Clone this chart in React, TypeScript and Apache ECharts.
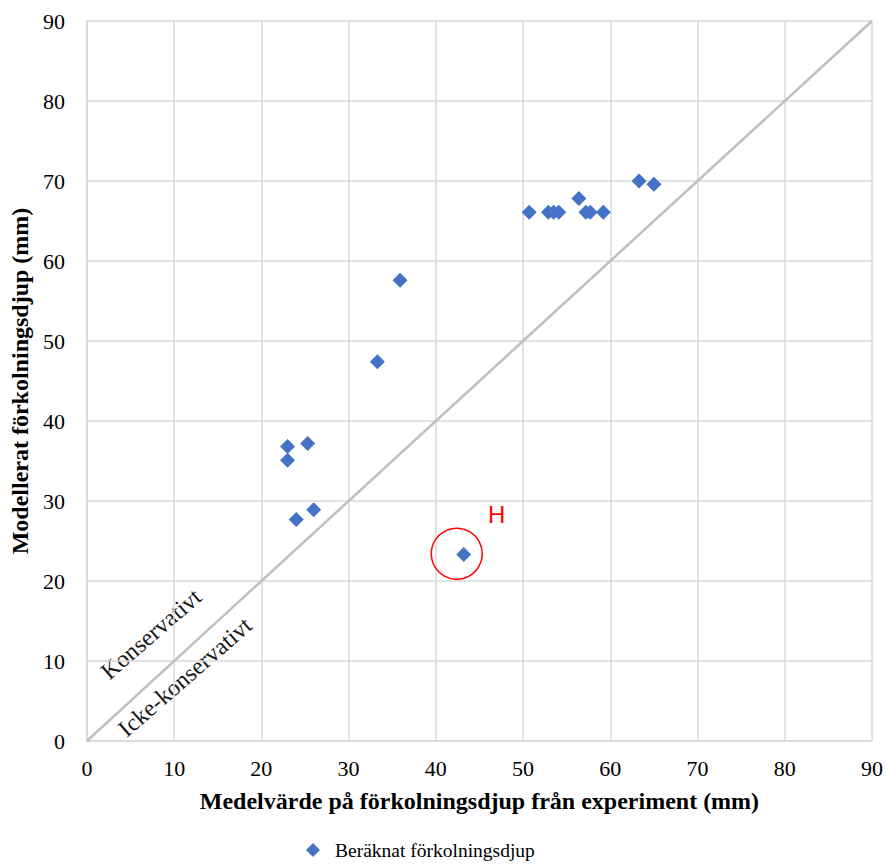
import React, { useEffect, useRef } from "react";
import * as echarts from "echarts";

const expX = [23.0, 23.0, 25.3, 24.0, 26.0, 33.3, 35.9, 43.2, 50.7, 52.9, 53.5, 54.1, 56.4, 57.2, 57.7, 59.2, 63.3, 65.0];
const modelY = [36.8, 35.1, 37.2, 27.7, 28.9, 47.4, 57.6, 23.3, 66.1, 66.1, 66.1, 66.1, 67.8, 66.1, 66.1, 66.1, 70.0, 69.6];
const refLine = [[0, 0], [90, 90]];
const highlight = [[42.4, 23.4]];
const highlightLabel = "H";
const seriesName = "Beräknat förkolningsdjup";
const xTitle = "Medelvärde på förkolningsdjup från experiment (mm)";
const yTitle = "Modellerat förkolningsdjup (mm)";

const SERIF = "'Liberation Serif', 'Times New Roman', serif";

export default function App() {
  const ref = useRef<HTMLDivElement>(null);
  useEffect(() => {
    if (!ref.current) return;
    const chart = echarts.init(ref.current, undefined, { renderer: "svg" });
    const points = expX.map((x, i) => [x, modelY[i]]);
    chart.setOption({
      animation: false,
      backgroundColor: "#fff",
      grid: { left: 86, right: 14, top: 21, bottom: 126, containLabel: false },
      xAxis: {
        type: "value",
        min: 0,
        max: 90,
        interval: 10,
        name: xTitle,
        nameLocation: "middle",
        nameGap: 48,
        nameTextStyle: { fontFamily: SERIF, fontWeight: "bold", fontSize: 24, color: "#000" },
        axisLine: { show: true, lineStyle: { color: "#D9D9D9", width: 1.5 } },
        axisTick: { show: false },
        axisLabel: { fontFamily: SERIF, fontSize: 22, color: "#000", margin: 16 },
        splitLine: { show: true, lineStyle: { color: "#D9D9D9", width: 1.5 } },
      },
      yAxis: {
        type: "value",
        min: 0,
        max: 90,
        interval: 10,
        name: yTitle,
        nameLocation: "middle",
        nameGap: 50,
        nameTextStyle: { fontFamily: SERIF, fontWeight: "bold", fontSize: 24, color: "#000" },
        axisLine: { show: true, lineStyle: { color: "#D9D9D9", width: 1.5 } },
        axisTick: { show: false },
        axisLabel: { fontFamily: SERIF, fontSize: 22, color: "#000", margin: 22 },
        splitLine: { show: true, lineStyle: { color: "#D9D9D9", width: 1.5 } },
      },
      legend: {
        data: [seriesName],
        left: 301,
        bottom: 2,
        icon: "diamond",
        itemWidth: 14,
        itemHeight: 14,
        itemGap: 10,
        textStyle: { fontFamily: SERIF, fontSize: 19.5, color: "#000", padding: [0, 0, 0, 10] },
      },
      series: [
        {
          type: "line",
          name: "ref",
          data: refLine,
          symbol: "none",
          lineStyle: { color: "#BFBFBF", width: 2.5 },
          silent: true,
          z: 1,
        },
        {
          type: "scatter",
          name: seriesName,
          data: points,
          symbol: "diamond",
          symbolSize: 15,
          itemStyle: { color: "#4472C4", opacity: 1 },
          z: 3,
        },
        {
          type: "scatter",
          name: "circle",
          data: highlight,
          symbol: "circle",
          symbolSize: 51,
          itemStyle: { color: "rgba(0,0,0,0)", borderColor: "#FF0000", borderWidth: 1.5, opacity: 1 },
          label: {
            show: true,
            formatter: highlightLabel,
            position: "inside",
            offset: [40, -39],
            color: "#FF0000",
            fontFamily: "'Liberation Sans', Arial, sans-serif",
            fontSize: 24,
          },
          silent: true,
          z: 2,
        },
      ],
      graphic: [
        {
          type: "text",
          x: 151,
          y: 634,
          rotation: (41 * Math.PI) / 180,
          style: {
            text: "Konservativt",
            fontFamily: SERIF,
            fontSize: 24,
            fill: "#1a1a1a",
            align: "center",
            verticalAlign: "middle",
          },
        },
        {
          type: "text",
          x: 185,
          y: 677,
          rotation: (41 * Math.PI) / 180,
          style: {
            text: "Icke-konservativt",
            fontFamily: SERIF,
            fontSize: 24,
            fill: "#1a1a1a",
            align: "center",
            verticalAlign: "middle",
          },
        },
      ],
    });
    return () => chart.dispose();
  }, []);
  return <div ref={ref} style={{ width: 886, height: 867, position: "absolute", left: 0, top: 0 }} />;
}
